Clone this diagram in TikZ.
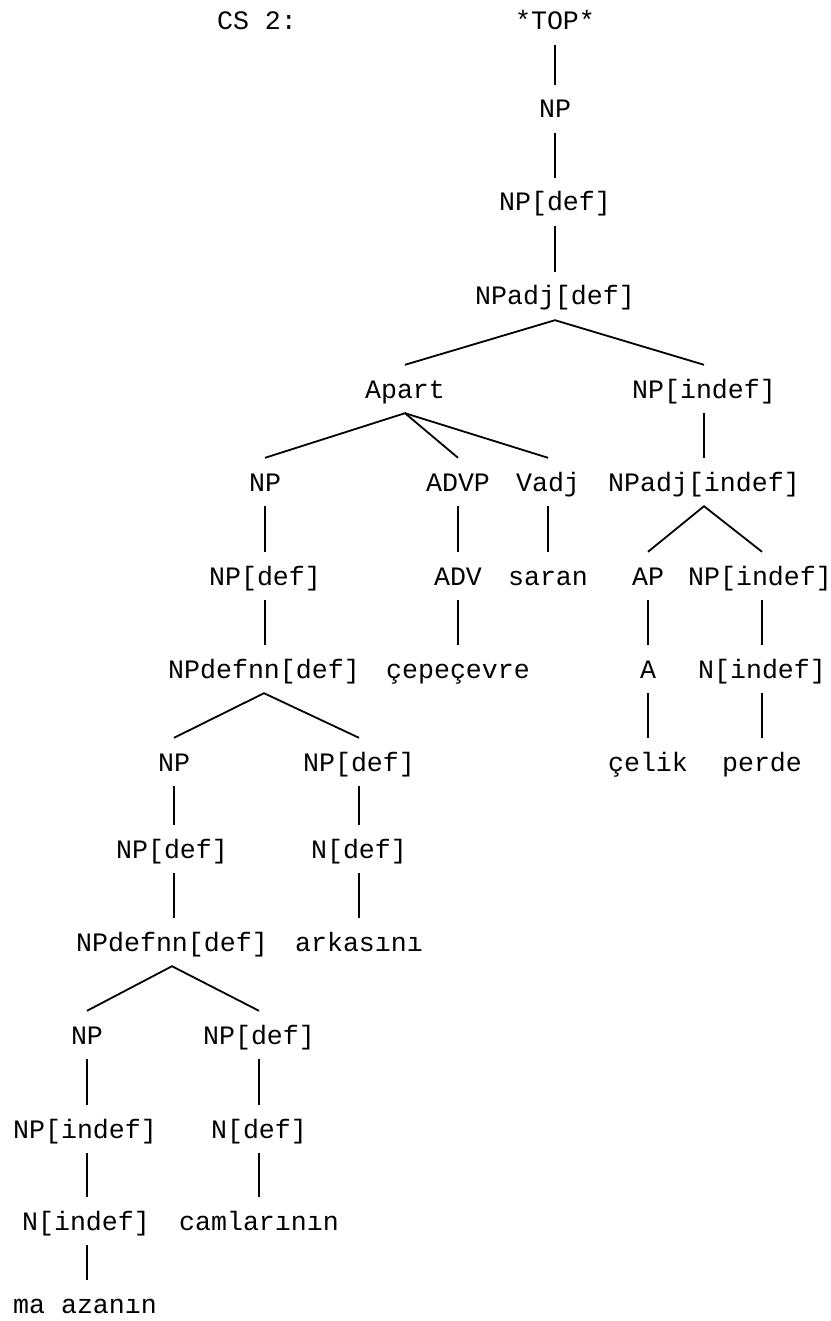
\documentclass[tikz,border=0pt]{standalone}
\usepackage{fontspec}
\setmainfont{Liberation Mono}
\begin{document}
\begin{tikzpicture}[x=1pt,y=-1pt,
  lbl/.style={font=\fontsize{26.6}{30}\selectfont, inner sep=0pt, text height=33pt, text depth=15pt, anchor=base},
  edge/.style={line width=1.8pt}]
\useasboundingbox (0,0) rectangle (830,1321);
% rows (baselines)
\def\ra{30}\def\rb{118}\def\rc{211}\def\rd{305}\def\re{398}\def\rf{491}\def\rg{585}
\def\rh{678}\def\ri{771}\def\rj{858}\def\rk{951}\def\rl{1044}\def\rm{1138}\def\rn{1230}\def\ro{1313}
\node[lbl] (cs) at (257,\ra) {CS 2:};
\node[lbl] (top) at (555,\ra) {*TOP*};
\node[lbl] (np1) at (555,\rb) {NP};
\node[lbl] (npdef1) at (555,\rc) {NP[def]};
\node[lbl] (npadjdef) at (555,\rd) {NPadj[def]};
\node[lbl] (apart) at (405,\re) {Apart};
\node[lbl] (npindef1) at (704,\re) {NP[indef]};
\node[lbl] (np2) at (265,\rf) {NP};
\node[lbl] (advp) at (458,\rf) {ADVP};
\node[lbl] (vadj) at (548,\rf) {Vadj};
\node[lbl] (npadjindef) at (704,\rf) {NPadj[indef]};
\node[lbl] (npdef2) at (265,\rg) {NP[def]};
\node[lbl] (adv) at (458,\rg) {ADV};
\node[lbl] (saran) at (548,\rg) {saran};
\node[lbl] (ap) at (648,\rg) {AP};
\node[lbl] (npindef2) at (760,\rg) {NP[indef]};
\node[lbl] (npdefnn1) at (264,\rh) {NPdefnn[def]};
\node[lbl] (cepe) at (458,\rh) {çepeçevre};
\node[lbl] (a) at (648,\rh) {A};
\node[lbl] (nindef1) at (762,\rh) {N[indef]};
\node[lbl] (np3) at (174,\ri) {NP};
\node[lbl] (npdef3) at (359,\ri) {NP[def]};
\node[lbl] (celik) at (648,\ri) {çelik};
\node[lbl] (perde) at (762,\ri) {perde};
\node[lbl] (npdef4) at (172,\rj) {NP[def]};
\node[lbl] (ndef1) at (359,\rj) {N[def]};
\node[lbl] (npdefnn2) at (172,\rk) {NPdefnn[def]};
\node[lbl] (arka) at (359,\rk) {arkasını};
\node[lbl] (np4) at (87,\rl) {NP};
\node[lbl] (npdef5) at (259,\rl) {NP[def]};
\node[lbl] (npindef3) at (85,\rm) {NP[indef]};
\node[lbl] (ndef2) at (259,\rm) {N[def]};
\node[lbl] (nindef2) at (86,\rn) {N[indef]};
\node[lbl] (caml) at (259,\rn) {camlarının};
\node[lbl] (mag) at (85,\ro) {ma azanın};
% vertical connectors (kept vertical under the parent)
\draw[edge] (top.south) -- (top.south |- np1.north);
\draw[edge] (np1.south) -- (np1.south |- npdef1.north);
\draw[edge] (npdef1.south) -- (npdef1.south |- npadjdef.north);
\draw[edge] (npindef1.south) -- (npindef1.south |- npadjindef.north);
\draw[edge] (np2.south) -- (np2.south |- npdef2.north);
\draw[edge] (advp.south) -- (advp.south |- adv.north);
\draw[edge] (vadj.south) -- (vadj.south |- saran.north);
\draw[edge] (npdef2.south) -- (npdef2.south |- npdefnn1.north);
\draw[edge] (adv.south) -- (adv.south |- cepe.north);
\draw[edge] (ap.south) -- (ap.south |- a.north);
\draw[edge] (nindef1.north |- npindef2.south) -- (nindef1.north);
\draw[edge] (a.south) -- (a.south |- celik.north);
\draw[edge] (nindef1.south) -- (nindef1.south |- perde.north);
\draw[edge] (np3.south) -- (np3.south |- npdef4.north);
\draw[edge] (npdef3.south) -- (npdef3.south |- ndef1.north);
\draw[edge] (np3.south |- npdef4.south) -- (np3.south |- npdefnn2.north);
\draw[edge] (ndef1.south) -- (ndef1.south |- arka.north);
\draw[edge] (np4.south) -- (np4.south |- npindef3.north);
\draw[edge] (npdef5.south) -- (npdef5.south |- ndef2.north);
\draw[edge] (np4.south |- npindef3.south) -- (np4.south |- nindef2.north);
\draw[edge] (ndef2.south) -- (ndef2.south |- caml.north);
\draw[edge] (np4.south |- nindef2.south) -- (np4.south |- mag.north);
% branching connectors
\draw[edge] (apart.north) -- (npadjdef.south) -- (npindef1.north);
\draw[edge] (np2.north) -- (apart.south) -- (advp.north);
\draw[edge] (apart.south) -- (vadj.north);
\draw[edge] (ap.north) -- (npadjindef.south) -- (nindef1.north |- npindef2.north);
\draw[edge] (np3.north) -- (npdefnn1.south) -- (npdef3.north);
\draw[edge] (np4.north) -- (npdefnn2.south) -- (npdef5.north);
\end{tikzpicture}
\end{document}
